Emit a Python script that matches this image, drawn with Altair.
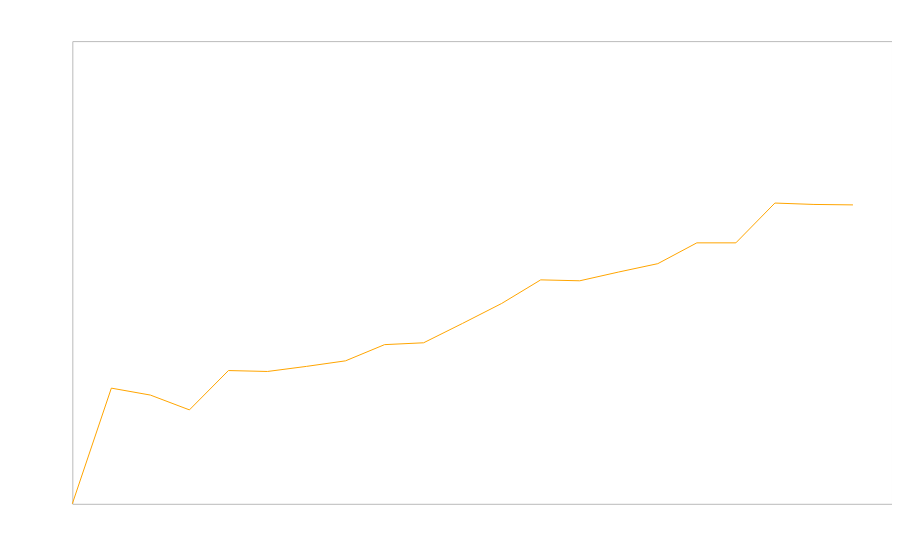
import altair as alt
import pandas as pd

steps = list(range(21))
values = [0, 25.0, 23.5, 20.3, 28.8, 28.6, 29.7, 30.9, 34.4, 34.8, 39.0,
          43.3, 48.4, 48.2, 50.1, 51.9, 56.4, 56.4, 65.0, 64.7, 64.6]

df = pd.DataFrame({"step": steps, "value": values})

chart = alt.Chart(df).mark_line(color="#ffa500", strokeWidth=1).encode(
    x=alt.X("step:Q", scale=alt.Scale(domain=[0, 21], nice=False, zero=False), axis=None),
    y=alt.Y("value:Q", scale=alt.Scale(domain=[0, 100], nice=False), axis=None),
).properties(
    width=822, height=464,
    padding={"left": 62.5, "top": 32.5, "right": 0, "bottom": 0},
).configure_view(stroke="#bbbbbb", strokeWidth=1)

chart.save("out.html", embed_options={"renderer": "svg", "actions": False})
